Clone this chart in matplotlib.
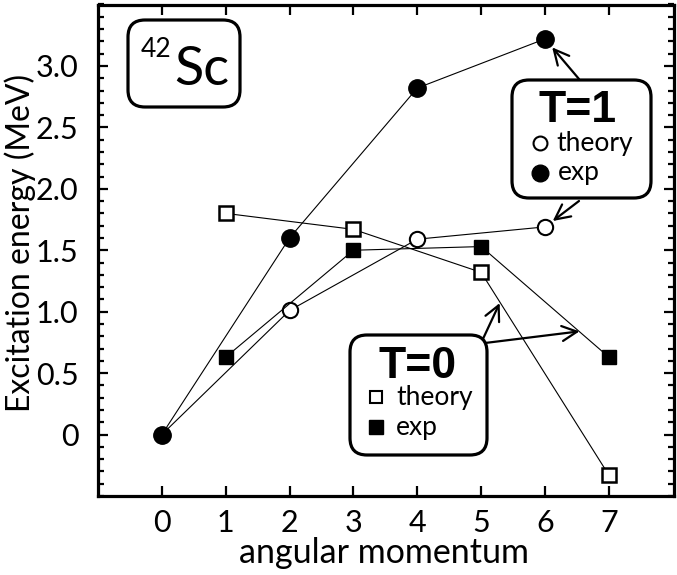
import matplotlib
matplotlib.use("Agg")
import matplotlib.pyplot as plt
from matplotlib.patches import FancyBboxPatch
from matplotlib.lines import Line2D
from matplotlib.ticker import MultipleLocator

# ---- data ----
t1_j = [0, 2, 4, 6]
t1_theory = [0.0, 1.01, 1.59, 1.69]
t1_exp = [0.0, 1.60, 2.82, 3.22]
t0_j = [1, 3, 5, 7]
t0_theory = [1.80, 1.67, 1.32, -0.33]
t0_exp = [0.63, 1.50, 1.53, 0.63]
xticks = [0, 1, 2, 3, 4, 5, 6, 7]
yticks = [0, 0.5, 1.0, 1.5, 2.0, 2.5, 3.0]
ytick_labels = ["0", "0.5", "1.0", "1.5", "2.0", "2.5", "3.0"]

FONT = "Lato"
BOLD = "Liberation Sans"

W, H = 677, 575
fig = plt.figure(figsize=(W / 100, H / 100), dpi=100)
L, R, T, B = 98, 674, 4.5, 496
ax = fig.add_axes([L / W, 1 - B / H, (R - L) / W, (B - T) / H])

lw_line = 0.8
ax.plot(t1_j, t1_theory, color="black", lw=lw_line, marker="o", ms=11,
        mfc="white", mec="black", mew=1.5, zorder=3)
ax.plot(t1_j, t1_exp, color="black", lw=lw_line, marker="o", ms=12.5,
        mfc="black", mec="black", zorder=3)
ax.plot(t0_j, t0_theory, color="black", lw=lw_line, marker="s", ms=9.5,
        mfc="white", mec="black", mew=1.8, zorder=3)
ax.plot(t0_j, t0_exp, color="black", lw=lw_line, marker="s", ms=10,
        mfc="black", mec="black", zorder=3)

ax.set_xlim(-1, 8.02)
ax.set_ylim(-0.5, 3.5)
ax.set_xticks(xticks)
ax.set_xticklabels([str(x) for x in xticks], fontfamily=FONT, fontsize=22)
ax.set_yticks(yticks)
ax.set_yticklabels(ytick_labels, fontfamily=FONT, fontsize=22)
ax.yaxis.set_minor_locator(MultipleLocator(0.1))
ax.tick_params(which="both", direction="in", top=True, right=True, width=1.6)
ax.tick_params(which="major", length=7)
ax.tick_params(which="minor", length=4)
ax.tick_params(axis="y", which="major", pad=14)
ax.tick_params(axis="x", which="major", pad=9)
for s in ax.spines.values():
    s.set_linewidth(2.3)

fig.text(384 / W, 1 - 563 / H, "angular momentum", fontfamily=FONT,
         fontsize=24.5, ha="center", va="baseline")
fig.text(20 / W, 1 - 243 / H, "Excitation energy (MeV)", fontfamily=FONT,
         fontsize=23, ha="center", va="center", rotation=90)

tr = fig.dpi_scale_trans


def P(px, py):
    return (px / 100, (H - py) / 100)


def box(x0, y0, x1, y1):
    (a, b) = P(x0, y1)
    p = FancyBboxPatch((a, b), (x1 - x0) / 100, (y1 - y0) / 100,
                       boxstyle="round,pad=0,rounding_size=0.17",
                       transform=tr, fc="white", ec="black", lw=2.3, zorder=5)
    fig.add_artist(p)


def txt(px, py, s, **kw):
    x, y = P(px, py)
    fig.text(x, y, s, transform=tr, zorder=6, **kw)


def mark(px, py, **kw):
    x, y = P(px, py)
    fig.add_artist(Line2D([x], [y], transform=tr, zorder=6, color="black", **kw))


# 42Sc box
box(128, 20, 240, 107)
txt(141, 57, "42", fontfamily=FONT, fontsize=19, va="baseline", ha="left")
txt(174, 85, "Sc", fontfamily=FONT, fontsize=39, va="baseline", ha="left")

# T=1 box
box(512, 80, 651, 198)
txt(578, 122, "T=1", fontfamily=BOLD, fontweight="bold", fontsize=32,
    ha="center", va="baseline")
mark(540, 143, marker="o", ms=10, mfc="white", mec="black", mew=1.5)
txt(556, 151, "theory", fontfamily=FONT, fontsize=19, ha="left", va="baseline")
mark(540, 173, marker="o", ms=12, mfc="black", mec="black")
txt(558, 180, "exp", fontfamily=FONT, fontsize=19, ha="left", va="baseline")

# T=0 box
box(350, 335, 487, 455)
txt(418, 378, "T=0", fontfamily=BOLD, fontweight="bold", fontsize=32,
    ha="center", va="baseline")
mark(376, 397, marker="s", ms=9, mfc="white", mec="black", mew=1.5)
txt(396, 405, "theory", fontfamily=FONT, fontsize=19, ha="left", va="baseline")
mark(376, 427, marker="s", ms=10, mfc="black", mec="black")
txt(396, 435, "exp", fontfamily=FONT, fontsize=19, ha="left", va="baseline")

arrow_kw = dict(arrowstyle="->,head_length=0.6,head_width=0.3", lw=1.6,
                color="black", shrinkA=0, mutation_scale=18)


def arrow(target, start_px, shrinkB=7):
    ax.annotate("", xy=target, xycoords="data",
                xytext=P(*start_px), textcoords=tr,
                arrowprops=dict(shrinkB=shrinkB, **arrow_kw),
                annotation_clip=False, zorder=4)


arrow((t1_j[3], t1_exp[3]), (579, 79), shrinkB=8)
arrow((t1_j[3], t1_theory[3]), (579, 201), shrinkB=7)
arrow((5.29, 1.07), (482, 341), shrinkB=0)
arrow((6.54, 0.84), (485, 343), shrinkB=0)

fig.savefig("out.png", dpi=100)
